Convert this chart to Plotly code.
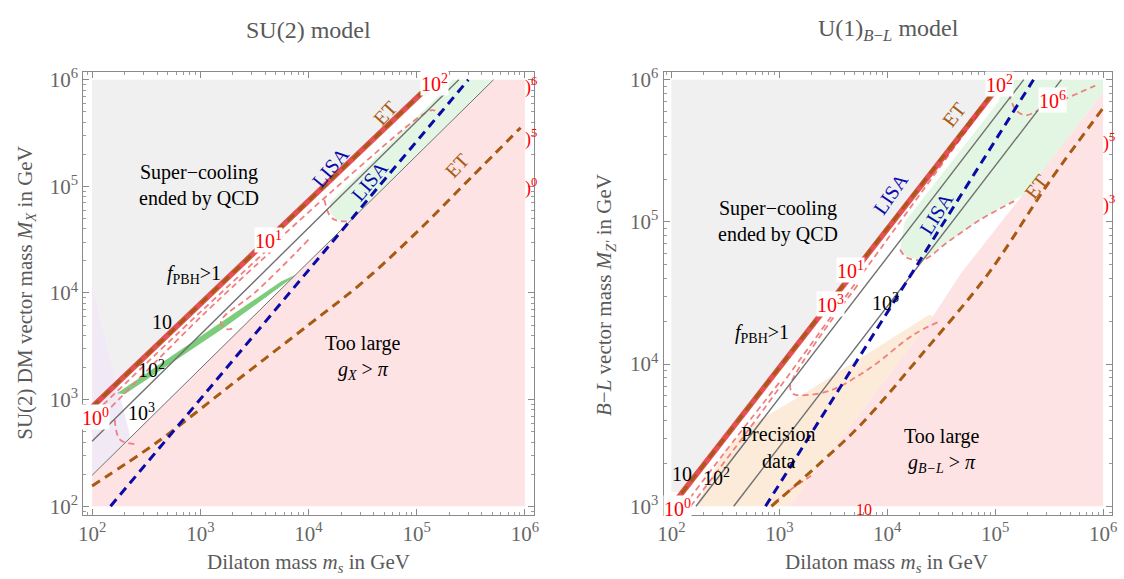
import plotly.graph_objects as go

W, H = 1124, 579

# ---------------- LEFT PANEL (SU(2)) data : dilaton mass m_s [GeV], vector mass M_X [GeV]
L_gray_ms = [100, 149600, 169.4, 100]
L_gray_M = [1e6, 1e6, 1416, 11860]
L_lav_ms = [100, 222.8, 222.8, 100]
L_lav_M = [11860, 471, 434.5, 195]
L_pink_ms = [100, 100, 512900, 1e6, 1e6]
L_pink_M = [100, 195, 1e6, 1e6, 100]
L_green_ms = [15850, 15850, 18200, 23990, 512900, 213800, 147900, 15850]
L_green_M = [70800, 56230, 48980, 46770, 1e6, 1e6, 660700, 70800]
L_band_ms = [170, 1585, 5620, 7700, 7080, 5010, 1585, 200]
L_band_M = [1150, 5370, 12880, 14900, 13800, 10700, 4570, 1120]
L_bound_ms = [100, 1000, 10000, 112000]
L_bound_M = [851, 7890, 73100, 757000]
L_etup_ms = [100, 1000, 10000, 150000]
L_etup_M = [851, 7890, 73100, 1e6]
L_c10_ms = [100, 245000]
L_c10_M = [407, 1e6]
L_c1000_ms = [100, 513000]
L_c1000_M = [195, 1e6]
L_lisa_ms = [148, 300000]
L_lisa_M = [100, 1e6]
L_etlow_ms = [100, 398, 1995, 10000, 31600, 100000, 316000, 912000]
L_etlow_M = [155, 398, 1413, 5012, 12590, 37150, 120200, 354800]
L_sA_ms = [126, 1000, 16750, 112200, 140000, 170000]
L_sA_M = [891, 6607, 91200, 467700, 520000, 480000]
L_sB_ms = [10000, 3162, 1660, 1550, 1780, 2040]
L_sB_M = [31600, 10000, 6030, 5250, 4570, 4680]
L_sC_ms = [162, 180, 248]
L_sC_M = [646, 424, 381]
L_sD_ms = [14000, 15850, 18200, 23990]
L_sD_M = [75000, 52480, 47860, 47000]
L_sE_ms = [150, 1000, 5000]
L_sE_M = [850, 5900, 27000]

# ---------------- RIGHT PANEL (U(1)_{B-L}) data : m_s [GeV], M_Z' [GeV]
R_gray_ms = [100, 100, 120000, 127]
R_gray_M = [1259, 1e6, 1e6, 1259]
R_pink_ms = [1236, 26420, 48980, 553400, 1e6, 1e6]
R_pink_M = [1000, 21580, 44160, 458100, 812800, 1000]
R_peach_ms = [169, 316, 520, 1493, 24770, 26420, 1236]
R_peach_M = [1000, 2512, 3631, 5848, 22280, 21580, 1000]
R_green_ms = [13150, 15240, 21830, 35480, 71290, 190500, 553400, 1e6, 1e6,
              117500, 108400, 37410, 14550, 13150]
R_green_M = [63680, 55980, 54330, 71120, 102500, 158500, 458100, 812800, 1e6,
             1e6, 707900, 251200, 100000, 63680]
R_bound_ms = [102, 95500]
R_bound_M = [1016, 801700]
R_etup_ms = [102, 100000]
R_etup_M = [1016, 851000]
R_c100_ms = [169, 184000]
R_c100_M = [1000, 1e6]
R_c1000_ms = [378, 411000]
R_c1000_M = [1000, 1e6]
R_lisa_ms = [745, 226500]
R_lisa_M = [1000, 1e6]
R_etlow_ms = [845, 2138, 5623, 19950, 87100, 316200, 1e6]
R_etlow_M = [1000, 1862, 3715, 11220, 43650, 190500, 631000]
R_sA_ms = [151, 520, 6982, 82600]
R_sA_M = [1000, 3459, 51760, 682300]
R_sB_ms = [5309, 2512, 1413, 1259, 1349, 1585, 3000, 6982, 17700, 30620]
R_sB_M = [35890, 16600, 8511, 6918, 6166, 6026, 6531, 9419, 16180, 19950]
R_sC_ms = [13150, 15240, 21830, 35480, 71290, 150000]
R_sC_M = [63680, 55980, 54330, 71120, 102500, 140000]
R_sD_ms = [134300, 156000, 192300, 253500, 845000]
R_sD_M = [800000, 609500, 562300, 609500, 907800]
R_sE_ms = [900, 1211, 1970]
R_sE_M = [1060, 1270, 1640]
R_sF_ms = [130, 300, 1000]
R_sF_M = [1000, 2300, 7400]

TICK_EXP = [2, 3, 4, 5, 6]

# ---------------- styles
GRAYFILL = "#f0f0f0"
PINK = "#fde3e3"
LGREEN = "#e3f6e3"
LAV = "#f1e9f5"
PEACH = "#fdebd9"
BAND = "#7ccc7c"
BLUE = "#0a0aa8"
BROWN = "#a65a12"
SALMON = "#f08080"
GLINE = "#707070"
RED = "rgba(222,38,45,0.8)"
SERIF = "Liberation Serif"

fig = go.Figure()


def ax(side):
    return ("x", "y") if side == "L" else ("x2", "y2")


def poly(side, xs, ys, color):
    xa, ya = ax(side)
    fig.add_trace(go.Scatter(x=xs, y=ys, mode="lines", fill="toself", fillcolor=color,
                             line=dict(width=0), hoverinfo="skip", showlegend=False,
                             xaxis=xa, yaxis=ya))


def line(side, xs, ys, color, width, dash="solid", shape="linear"):
    xa, ya = ax(side)
    fig.add_trace(go.Scatter(x=xs, y=ys, mode="lines",
                             line=dict(color=color, width=width, dash=dash, shape=shape),
                             hoverinfo="skip", showlegend=False, xaxis=xa, yaxis=ya))


# left panel
poly("L", L_gray_ms, L_gray_M, GRAYFILL)
poly("L", L_lav_ms, L_lav_M, LAV)
poly("L", L_pink_ms, L_pink_M, PINK)
poly("L", L_green_ms, L_green_M, LGREEN)
poly("L", L_band_ms, L_band_M, BAND)
for xs, ys in [(L_sA_ms, L_sA_M), (L_sB_ms, L_sB_M), (L_sC_ms, L_sC_M),
               (L_sD_ms, L_sD_M), (L_sE_ms, L_sE_M)]:
    line("L", xs, ys, SALMON, 1.8, "6px,4px", "spline")
line("L", L_c10_ms, L_c10_M, GLINE, 1.4)
line("L", L_c1000_ms, L_c1000_M, GLINE, 1.0)
line("L", L_bound_ms, L_bound_M, RED, 5.5)
line("L", L_etup_ms, L_etup_M, BROWN, 3.2, "9px,6px")
line("L", L_etlow_ms, L_etlow_M, BROWN, 3, "9px,6px", "spline")
line("L", L_lisa_ms, L_lisa_M, BLUE, 3, "9px,6px")

# right panel
poly("R", R_gray_ms, R_gray_M, GRAYFILL)
poly("R", R_peach_ms, R_peach_M, PEACH)
poly("R", R_pink_ms, R_pink_M, PINK)
poly("R", R_green_ms, R_green_M, LGREEN)
for xs, ys in [(R_sA_ms, R_sA_M), (R_sB_ms, R_sB_M), (R_sC_ms, R_sC_M),
               (R_sD_ms, R_sD_M), (R_sE_ms, R_sE_M), (R_sF_ms, R_sF_M)]:
    line("R", xs, ys, SALMON, 1.8, "6px,4px", "spline")
line("R", R_c100_ms, R_c100_M, GLINE, 1.4)
line("R", R_c1000_ms, R_c1000_M, GLINE, 1.4)
line("R", R_bound_ms, R_bound_M, RED, 5.5)
line("R", R_etup_ms, R_etup_M, BROWN, 3.2, "9px,6px")
line("R", R_etlow_ms, R_etlow_M, BROWN, 3, "9px,6px", "spline")
line("R", R_lisa_ms, R_lisa_M, BLUE, 3, "9px,6px")

# ---------------- axes
tickvals = [10 ** e for e in TICK_EXP]
ticktext = ["10<sup>%d</sup>" % e for e in TICK_EXP]
minor_vals = [k * 10 ** d for d in range(1, 7) for k in range(2, 10)]


def axis(rng, dom, tv, tt):
    return dict(type="log", range=rng, domain=dom, showgrid=False, zeroline=False,
                showline=True, linecolor="#8a8a8a", linewidth=1, mirror="allticks",
                ticks="inside", ticklen=6, tickcolor="#8a8a8a", tickwidth=1,
                tickvals=tv, ticktext=tt,
                tickfont=dict(family=SERIF, size=21, color="#666666"),
                minor=dict(ticks="inside", ticklen=3, tickcolor="#9a9a9a",
                           tickmode="array", tickvals=minor_vals, showgrid=False))


ydom = [1 - 517 / H, 1 - 66 / H]
fig.update_layout(
    width=W, height=H, margin=dict(l=0, r=0, t=0, b=0),
    paper_bgcolor="white", plot_bgcolor="white", showlegend=False,
    xaxis=axis([1.918, 6.082], [78 / W, 533 / W], tickvals, ticktext),
    yaxis=axis([1.917, 6.074], ydom, tickvals, ticktext),
    xaxis2=axis([1.927, 6.083], [664 / W, 1117 / W], tickvals, ticktext),
    yaxis2=axis([2.938, 6.055], ydom, tickvals[1:], ticktext[1:]),
)
fig.layout.yaxis.anchor = "x"
fig.layout.xaxis.anchor = "y"
fig.layout.xaxis2.anchor = "y2"
fig.layout.yaxis2.anchor = "x2"

# ---------------- text
ann = []


def txt(x, y, s, size=20, color="black", angle=0, bg=None):
    d = dict(x=x / W, y=1 - y / H, xref="paper", yref="paper", text=s, showarrow=False,
             font=dict(family=SERIF, size=size, color=color), textangle=angle,
             xanchor="center", yanchor="middle")
    if bg:
        d.update(bgcolor=bg, borderpad=0)
    ann.append(d)


GT = "#5a5a5a"
fpbh = "<i>f</i><sub>PBH</sub>&gt;1"
# left
txt(305, 23, "SU(2) model", 24, GT)
txt(305, 566, "Dilaton mass <i>m<sub>s</sub></i> in GeV", 21, GT)
txt(20, 291, "SU(2) DM vector mass <i>M<sub>X</sub></i> in GeV", 21, GT, -90)
txt(195, 168, "Super\u2212cooling")
txt(195, 195, "ended by QCD")
txt(328, 163, "LISA", 20, BLUE, -50)
txt(367, 177, "LISA", 20, BLUE, -50)
txt(383, 108, "ET", 20, BROWN, -47)
txt(455, 162, "ET", 20, BROWN, -47)
txt(433, 77, "10<sup>2</sup>", 20, "red", 0, "white")
txt(265, 237, "10<sup>1</sup>", 20, "red", 0, "white")
txt(90, 417, "10<sup>0</sup>", 20, "red", 0, "white")
txt(530, 80, ")<sup>6</sup>", 18, "red")
txt(530, 133, ")<sup>5</sup>", 18, "red")
txt(530, 183, ")<sup>0</sup>", 18, "red")
txt(190, 272, fpbh)
txt(158, 321, "10")
txt(147, 368, "10<sup>2</sup>")
txt(137, 412, "10<sup>3</sup>")
txt(361, 342, "Too large")
txt(361, 370, "<i>g<sub>X</sub></i> &gt; <i>\u03c0</i>")
# right
txt(891, 23, "U(1)<sub><i>B</i>\u2212<i>L</i></sub> model", 24, GT)
txt(889, 566, "Dilaton mass <i>m<sub>s</sub></i> in GeV", 21, GT)
txt(605, 293, "<i>B</i>\u2212<i>L</i> vector mass <i>M<sub>Z'</sub></i> in GeV", 21, GT, -90)
txt(780, 205, "Super\u2212cooling")
txt(780, 232, "ended by QCD")
txt(893, 190, "LISA", 20, BLUE, -55)
txt(940, 210, "LISA", 20, BLUE, -58)
txt(957, 110, "ET", 20, BROWN, -52)
txt(1040, 183, "ET", 20, BROWN, -52)
txt(1003, 78, "10<sup>2</sup>", 20, "red", 0, "white")
txt(1057, 95, "10<sup>6</sup>", 20, "red", 0, "white")
txt(853, 268, "10<sup>1</sup>", 20, "red", 0, "white")
txt(833, 302, "10<sup>3</sup>", 20, "red", 0, "white")
txt(678, 510, "10<sup>0</sup>", 20, "red", 0, "white")
txt(1114, 137, ")<sup>5</sup>", 18, "red")
txt(1114, 200, ")<sup>3</sup>", 18, "red")
txt(866, 511, "10", 16, "red")
txt(888, 300, "10<sup>3</sup>")
txt(763, 332, fpbh)
txt(683, 475, "10")
txt(718, 478, "10<sup>2</sup>")
txt(780, 435, "Precision")
txt(780, 462, "data")
txt(945, 437, "Too large")
txt(945, 465, "<i>g<sub>B\u2212L</sub></i> &gt; <i>\u03c0</i>")

fig.update_layout(annotations=ann)
fig.write_html("out.html")
